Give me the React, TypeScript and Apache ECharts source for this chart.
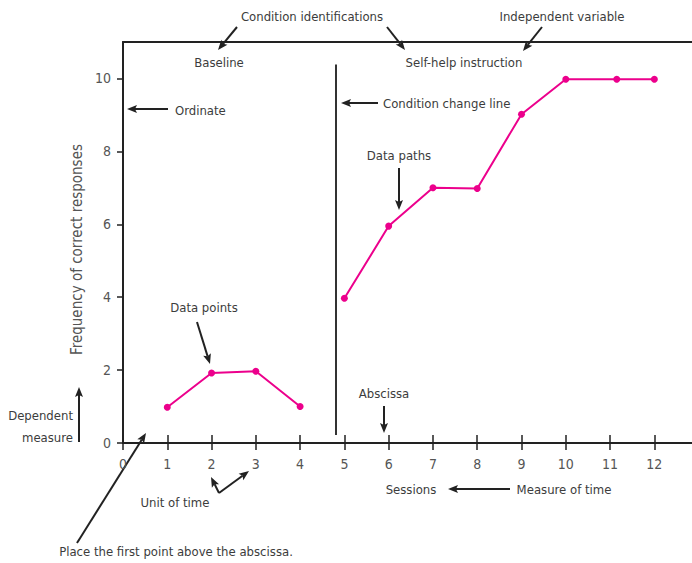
import React, { useEffect, useRef } from "react";
import * as echarts from "echarts";

// ---- data ----
const baselineSessions = [1, 2, 3, 4];
const baselineValues = [0.98, 1.92, 1.97, 1.0];
const treatmentSessions = [5, 6, 7, 8, 9, 10, 11.15, 12];
const treatmentValues = [3.97, 5.95, 7.0, 6.98, 9.02, 9.98, 9.98, 9.98];
const xTicks = [0, 1, 2, 3, 4, 5, 6, 7, 8, 9, 10, 11, 12];
const yTicks = [0, 2, 4, 6, 8, 10];
const conditionChangeSession = 4.81;
const conditionLineRange = [0.22, 10.38];

const FONT = "'Liberation Sans Narrow', 'DejaVu Sans Condensed', Roboto, sans-serif";
const TEXT_COLOR = "#3c3c3c";
const INK = "#222";
const MAGENTA = "#ec008c";

function txt(text: string, x: number, y: number, align: string = "center") {
  return {
    type: "text",
    x,
    y,
    style: {
      text,
      fontSize: 13,
      fontFamily: FONT,
      fill: TEXT_COLOR,
      align,
      verticalAlign: "middle",
    },
    silent: true,
  };
}

function arrow(x1: number, y1: number, x2: number, y2: number) {
  const head = 10;
  const half = 4;
  const dx = x2 - x1;
  const dy = y2 - y1;
  const len = Math.sqrt(dx * dx + dy * dy);
  const ux = dx / len;
  const uy = dy / len;
  const bx = x2 - ux * head;
  const by = y2 - uy * head;
  const px = -uy;
  const py = ux;
  return {
    type: "group",
    silent: true,
    children: [
      {
        type: "line",
        shape: { x1, y1, x2: bx + ux * 2, y2: by + uy * 2 },
        style: { stroke: INK, lineWidth: 2 },
      },
      {
        type: "polygon",
        shape: {
          points: [
            [x2, y2],
            [bx + px * half, by + py * half],
            [bx + ux * 2, by + uy * 2],
            [bx - px * half, by - py * half],
          ],
        },
        style: { fill: INK },
      },
    ],
  };
}

export default function App() {
  const ref = useRef<HTMLDivElement>(null);

  useEffect(() => {
    if (!ref.current) return;
    const chart = echarts.init(ref.current, null, { renderer: "svg" });

    const baseline = baselineSessions.map((s, i) => [s, baselineValues[i]]);
    const treatment = treatmentSessions.map((s, i) => [s, treatmentValues[i]]);

    const option: any = {
      animation: false,
      backgroundColor: "#fff",
      grid: { left: 123, right: 0, top: 42, bottom: 120, containLabel: false },
      xAxis: [
        {
          type: "value",
          min: 0,
          max: 12.85,
          position: "bottom",
          axisLine: { show: true, lineStyle: { color: INK, width: 2 } },
          axisTick: {
            show: true,
            customValues: xTicks,
            length: 7,
            lineStyle: { color: INK, width: 1.5 },
          },
          axisLabel: {
            customValues: xTicks,
            margin: 14,
            fontSize: 14,
            fontFamily: FONT,
            color: "#555",
          },
          splitLine: { show: false },
        },
        {
          type: "value",
          min: 0,
          max: 12.85,
          position: "bottom",
          axisLine: { show: false },
          axisTick: {
            show: true,
            inside: true,
            customValues: xTicks,
            length: 8,
            lineStyle: { color: INK, width: 1.5 },
          },
          axisLabel: { show: false },
          splitLine: { show: false },
        },
        {
          type: "value",
          min: 0,
          max: 12.85,
          position: "top",
          axisLine: { show: true, lineStyle: { color: INK, width: 2 } },
          axisTick: { show: false },
          axisLabel: { show: false },
          splitLine: { show: false },
        },
      ],
      yAxis: {
        type: "value",
        min: 0,
        max: 11,
        name: "Frequency of correct responses",
        nameLocation: "middle",
        nameGap: 29,
        nameTextStyle: { fontSize: 15, fontFamily: FONT, color: "#555", padding: [0, 0, 0, -14] },
        axisLine: { show: true, lineStyle: { color: INK, width: 2 } },
        axisTick: {
          show: true,
          customValues: yTicks,
          length: 6,
          lineStyle: { color: INK, width: 1.5 },
        },
        axisLabel: {
          customValues: yTicks,
          margin: 12,
          fontSize: 14,
          fontFamily: FONT,
          color: "#555",
        },
        splitLine: { show: false },
      },
      series: [
        {
          type: "line",
          xAxisIndex: 0,
          data: baseline,
          symbol: "circle",
          symbolSize: 7,
          lineStyle: { color: MAGENTA, width: 2 },
          itemStyle: { color: MAGENTA },
          silent: true,
        },
        {
          type: "line",
          xAxisIndex: 0,
          data: treatment,
          symbol: "circle",
          symbolSize: 7,
          lineStyle: { color: MAGENTA, width: 2 },
          itemStyle: { color: MAGENTA },
          silent: true,
          markLine: {
            silent: true,
            symbol: ["none", "none"],
            label: { show: false },
            lineStyle: { color: "#333", width: 2, type: "solid" },
            data: [
              [
                { coord: [conditionChangeSession, conditionLineRange[1]] },
                { coord: [conditionChangeSession, conditionLineRange[0]] },
              ],
            ],
          },
        },
      ],
      graphic: [
        txt("Condition identifications", 312, 16),
        txt("Independent variable", 562, 16),
        txt("Baseline", 219, 62),
        txt("Self-help instruction", 464, 62),
        txt("Ordinate", 175, 110, "left"),
        txt("Condition change line", 383, 103, "left"),
        txt("Data paths", 399, 155),
        txt("Data points", 204, 307),
        txt("Abscissa", 384, 393),
        txt("Dependent", 73, 415, "right"),
        txt("measure", 73, 437, "right"),
        txt("Unit of time", 175, 502),
        txt("Place the first point above the abscissa.", 176, 551),
        txt("Sessions", 411, 489),
        txt("Measure of time", 564, 489),
        arrow(237, 27, 218, 50),
        arrow(387, 27, 405, 50),
        arrow(542, 27, 523, 51),
        arrow(168, 109, 127, 109),
        arrow(378, 103, 341, 103),
        arrow(399, 168, 399, 210),
        arrow(197, 322, 210, 364),
        arrow(384, 406, 384, 433),
        arrow(79, 442, 79, 387),
        arrow(219, 493, 211, 477),
        arrow(219, 493, 249, 471),
        arrow(77, 543, 146, 433),
        arrow(510, 489, 448, 489),
      ],
    };

    chart.setOption(option);
    return () => chart.dispose();
  }, []);

  return (
    <div
      ref={ref}
      style={{ position: "absolute", left: 0, top: 0, width: 692, height: 563 }}
    />
  );
}
